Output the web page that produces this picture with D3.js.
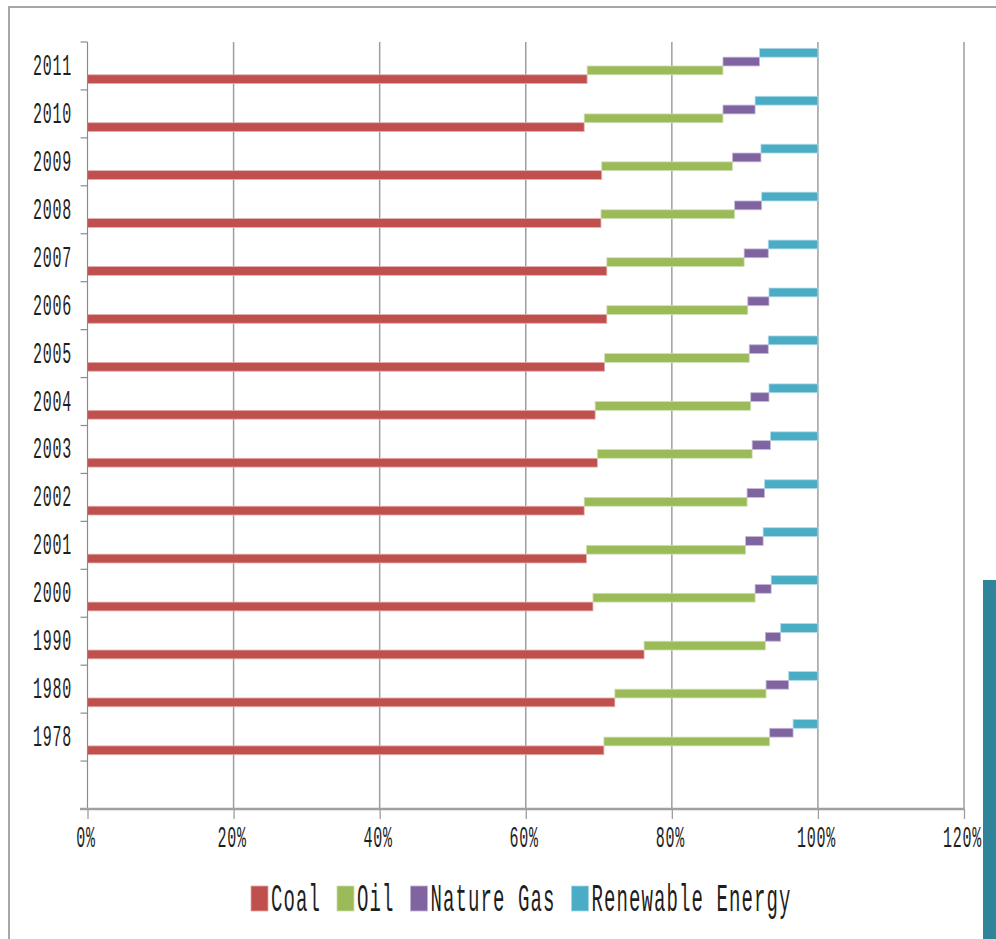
<!DOCTYPE html>
<html>
<head>
<meta charset="utf-8">
<script src="https://cdn.jsdelivr.net/npm/d3@7/dist/d3.min.js"></script>
<style>
  html, body { margin: 0; padding: 0; background: #fff; }
  svg { display: block; }
  text { font-family: "Liberation Mono", "DejaVu Sans Mono", monospace; fill: #1e1e1e; }
</style>
</head>
<body>
<svg id="chart" width="996" height="939"></svg>
<script>
// ---- data (percent of total energy consumption) ----
const years = ["2011","2010","2009","2008","2007","2006","2005","2004","2003","2002","2001","2000","1990","1980","1978"];
const coal      = [68.4, 68.0, 70.4, 70.3, 71.1, 71.1, 70.8, 69.5, 69.8, 68.0, 68.3, 69.2, 76.2, 72.2, 70.7];
const oil       = [18.6, 19.0, 17.9, 18.3, 18.8, 19.3, 19.8, 21.3, 21.2, 22.3, 21.8, 22.2, 16.6, 20.7, 22.7];
const gas       = [ 5.0,  4.4,  3.9,  3.7,  3.3,  2.9,  2.6,  2.5,  2.5,  2.4,  2.4,  2.2,  2.1,  3.1,  3.2];
const renewable = [ 8.0,  8.6,  7.8,  7.7,  6.8,  6.7,  6.8,  6.7,  6.5,  7.3,  7.5,  6.4,  5.1,  4.0,  3.4];
const seriesNames = ["Coal", "Oil", "Nature Gas", "Renewable Energy"];
const seriesColors = ["#c0504d", "#9bbb59", "#8064a2", "#4bacc6"];
const xTicks = [0, 20, 40, 60, 80, 100, 120];

const seriesValues = [coal, oil, gas, renewable];
const categories = [...years, ""]; // empty slot at the bottom, as in the original

const svg = d3.select("#chart");

// frame
svg.append("line").attr("x1", 8).attr("x2", 996).attr("y1", 7).attr("y2", 7)
  .attr("stroke", "#a6a6a6").attr("stroke-width", 2);
svg.append("line").attr("x1", 9).attr("x2", 9).attr("y1", 6).attr("y2", 939)
  .attr("stroke", "#a6a6a6").attr("stroke-width", 2);
svg.append("rect").attr("x", 983).attr("y", 580).attr("width", 13).attr("height", 359)
  .attr("fill", "#2f8499");

const x = d3.scaleLinear().domain([0, 120]).range([87.5, 964]);
const y = d3.scaleBand().domain(categories).range([42, 809]);
const inner = d3.scaleBand().domain(["Renewable Energy", "Nature Gas", "Oil", "Coal"])
  .range([0, y.bandwidth()]).paddingInner(0).paddingOuter(0.72);

// gridlines
svg.append("g").selectAll("line").data(xTicks.filter(d => d > 0)).join("line")
  .attr("x1", d => x(d)).attr("x2", d => x(d))
  .attr("y1", y.range()[0]).attr("y2", y.range()[1])
  .attr("stroke", "#9e9e9e").attr("stroke-width", 1.5);

// bars
const rows = [];
years.forEach((yr, i) => {
  let start = 0;
  seriesValues.forEach((vals, s) => {
    rows.push({ year: yr, name: seriesNames[s], color: seriesColors[s], x0: start, x1: start + vals[i] });
    start += vals[i];
  });
});
svg.append("g").selectAll("rect").data(rows).join("rect")
  .attr("x", d => x(d.x0))
  .attr("width", d => x(d.x1) - x(d.x0))
  .attr("y", d => y(d.year) + inner(d.name))
  .attr("height", inner.bandwidth())
  .attr("fill", d => d.color)
  .attr("stroke", d => d3.interpolateRgb(d.color, "#ffffff")(0.55))
  .attr("stroke-width", 0.8);

// y axis line + boundary ticks
const yAxis = svg.append("g");
yAxis.append("line").attr("x1", x(0)).attr("x2", x(0))
  .attr("y1", y.range()[0]).attr("y2", y.range()[1])
  .attr("stroke", "#8c8c8c").attr("stroke-width", 1.2);
yAxis.selectAll("line.tk").data(categories).join("line").attr("class", "tk")
  .attr("x1", x(0) - 7).attr("x2", x(0))
  .attr("y1", d => y(d)).attr("y2", d => y(d))
  .attr("stroke", "#8c8c8c").attr("stroke-width", 1.2);
yAxis.selectAll("text").data(years).join("text")
  .attr("text-anchor", "end")
  .attr("font-size", 15)
  .attr("letter-spacing", 0.75)
  .attr("transform", d => `translate(72,${y(d) + y.bandwidth() / 2 + 9}) scale(1,1.92)`)
  .text(d => d);

// x axis
const xAxisG = svg.append("g").attr("transform", `translate(0,${y.range()[1]})`)
  .call(d3.axisBottom(x).tickValues(xTicks).tickSize(10).tickPadding(0)
    .tickFormat(d => d + "%"));
xAxisG.select(".domain").remove();
xAxisG.selectAll(".tick line").attr("stroke", "#9e9e9e").attr("stroke-width", 1.3);
xAxisG.selectAll(".tick text")
  .attr("y", null).attr("dy", null)
  .attr("font-size", 15)
  .attr("letter-spacing", 0.75)
  .attr("fill", "#1e1e1e")
  .attr("font-family", '"Liberation Mono", monospace')
  .attr("transform", `translate(-2,38) scale(1,1.92)`);
xAxisG.append("line").attr("x1", 80).attr("x2", x(120)).attr("y1", 0).attr("y2", 0)
  .attr("stroke", "#a0a0a0").attr("stroke-width", 2.5);

// legend
const legend = svg.append("g");
let lx = 251;
seriesNames.forEach((name, i) => {
  legend.append("rect").attr("x", lx).attr("y", 886).attr("width", 17).attr("height", 25)
    .attr("fill", seriesColors[i])
    .attr("stroke", d3.interpolateRgb(seriesColors[i], "#ffffff")(0.5)).attr("stroke-width", 0.8);
  const t = legend.append("text")
    .attr("font-size", 19)
    .attr("letter-spacing", 1.1)
    .attr("transform", `translate(${lx + 20},911) scale(1,2.0)`)
    .text(name);
  lx += 20 + t.node().getComputedTextLength() + 16;
});
</script>
</body>
</html>
